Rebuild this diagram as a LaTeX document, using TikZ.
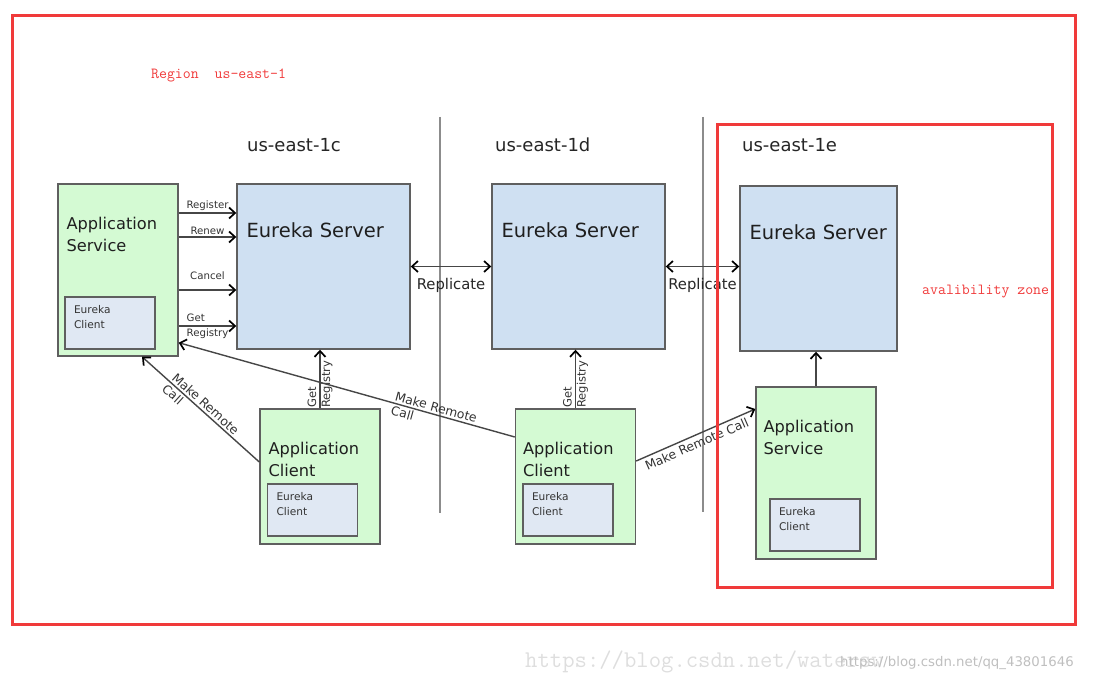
\documentclass[tikz,border=0pt]{standalone}
\usepackage{fontspec}
\setmainfont{DejaVu Sans}
\usepackage{xcolor}
\usetikzlibrary{positioning}
\usetikzlibrary{arrows.meta}
\definecolor{appgreen}{RGB}{212,250,211}
\definecolor{srvblue}{RGB}{207,224,242}
\definecolor{cliblue}{RGB}{224,232,243}
\definecolor{boxline}{RGB}{95,95,95}
\definecolor{linkgray}{RGB}{70,70,70}
\definecolor{sepgray}{RGB}{140,140,140}
\definecolor{annored}{RGB}{240,58,58}
\tikzset{>={Straight Barb[length=6pt,width=11pt,line width=1.7pt,color=black]}}

\begin{document}
\begin{tikzpicture}
	[x=1pt,y=-1pt,inner sep=0pt,
	server/.style={draw=boxline,fill=srvblue,line width=1.4pt,minimum width=173pt,minimum height=165pt},
	appbox/.style={draw=boxline,fill=appgreen,line width=1.4pt,minimum width=120pt,minimum height=#1},
	clibox/.style={draw=boxline,fill=cliblue,line width=1.4pt,minimum width=90pt,minimum height=52pt},
	bigtxt/.style={font=\fontsize{19.5}{23}\selectfont,text=black!88,anchor=west},
	apptxt/.style={font=\fontsize{16.2}{22}\selectfont,text=black!88,align=left,anchor=west},
	clitxt/.style={font=\fontsize{10.6}{15}\selectfont,text=black!80,align=left,anchor=west},
	zonetxt/.style={font=\fontsize{18}{22}\selectfont,text=black!85,anchor=west},
	small/.style={font=\fontsize{10.2}{15}\selectfont,text=black!80},
	vsmall/.style={font=\fontsize{11.5}{14}\selectfont,text=black!80},
	mrc/.style={font=\fontsize{12.4}{15}\selectfont,text=black!80},
	link/.style={draw=linkgray,line width=1.4pt,->},
	dlink/.style={draw=linkgray,line width=1.4pt,<->},
	sepline/.style={draw=sepgray,line width=1.6pt},
	redline/.style={draw=annored,line width=3pt},
	redtxt/.style={font=\ttfamily\fontsize{15.4}{18}\selectfont,text=annored,anchor=west}]
	\useasboundingbox (0,0) rectangle (1093,682);
	% zone separators
	\draw[sepline] (440,117) -- (440,513);
	\draw[sepline] (703,117) -- (703,512);
	% eureka servers
	\node [server] (srv1) at (323.5,266.5) {};
	\node [server] (srv2) at (578.5,266.5) {};
	\node [server,minimum width=157pt] (srv3) at (818.5,268.5) {};
	\foreach \n in {1,2,3}
		\node [bigtxt] (srvtxt\n) at ([xshift=10pt,yshift=-47pt]srv\n.north west) {Eureka Server};
	\node [zonetxt] (zone1) at (247,145) {us-east-1c};
	\node [zonetxt] (zone2) at (495,145) {us-east-1d};
	\node [zonetxt] (zone3) at (742,145) {us-east-1e};
	% applications
	\node [appbox=172pt] (svc1) at (118,270) {};
	\node [appbox=135pt] (acl1) at (320,476.5) {};
	\node [appbox=135pt] (acl2) at (575.5,476.5) {};
	\node [appbox=172pt] (svc3) at (816,473) {};
	\node [apptxt] (svctxt1) at ([xshift=9pt,yshift=-51pt]svc1.north west) {Application\\Service};
	\node [apptxt] (acltxt1) at ([xshift=9pt,yshift=-51pt]acl1.north west) {Application\\Client};
	\node [apptxt] (acltxt2) at ([xshift=8pt,yshift=-51pt]acl2.north west) {Application\\Client};
	\node [apptxt] (svctxt3) at ([xshift=8pt,yshift=-51pt]svc3.north west) {Application\\Service};
	% eureka clients
	\node [clibox] (ec1) at (110,323) {};
	\node [clibox] (ec2) at (312.5,510) {};
	\node [clibox] (ec3) at (568,510) {};
	\node [clibox] (ec4) at (815,525) {};
	\foreach \n in {1,2,3,4}
		\node [clitxt] (ectxt\n) at ([xshift=9.5pt,yshift=-20.5pt]ec\n.north west) {Eureka\\Client};
	% service to server
	\draw[link] (svc1.east |- 0,213) -- node[small,above=1.5pt] {Register} (srv1.west |- 0,213);
	\draw[link] (svc1.east |- 0,237) -- node[small,above=1.5pt] {Renew} (srv1.west |- 0,237);
	\draw[link] (svc1.east |- 0,290) -- node[small,above=10pt] {Cancel} (srv1.west |- 0,290);
	\draw[link] (svc1.east |- 0,326) -- node[small,align=left] {Get\\Registry} (srv1.west |- 0,326);
	% replication
	\draw[dlink] (srv1.east) -- node[zonetxt,anchor=north,font=\fontsize{14.8}{18}\selectfont,below=11pt] {Replicate} (srv2.west);
	\draw[dlink] (srv2.east) -- node[zonetxt,anchor=north,font=\fontsize{14.8}{18}\selectfont,below=11pt] {Replicate} (srv2.east -| srv3.west);
	% clients
	\draw[link] (acl1.north) -- (acl1.north |- srv1.south)
		node[vsmall,pos=0,rotate=90,anchor=west,align=left] {Get\\Registry};
	\draw[link] (acl2.north) -- (acl2.north |- srv2.south)
		node[vsmall,pos=0,rotate=90,anchor=west,align=left] {Get\\Registry};
	\draw[link] (svc3.north) -- (svc3.north |- srv3.south);
	\draw[link] ([yshift=14.5pt]acl1.west) -- node[mrc,sloped,align=left,pos=0.5] {Make Remote\\Call} ([xshift=24pt]svc1.south);
	\draw[link] ([yshift=39.5pt]acl2.west) -- node[mrc,sloped,align=left,pos=0.24] {Make Remote\\Call} ([yshift=14pt]svc1.south east);
	\draw[link] ([yshift=15.5pt]acl2.east) -- node[mrc,sloped,below=3pt,pos=0.48] {Make Remote Call} ([yshift=64pt]svc3.west);
	% annotations
	\draw[redline] (12,16) rectangle (1075,624);
	\draw[redline] (717,125) rectangle (1052,587);
	\node [redtxt] (region) at (151,75) {Region\ \ us-east-1};
	\node [redtxt] (azone) at (922,292) {avalibility zone};
	\node [anchor=west,font=\ttfamily\fontsize{24}{28}\selectfont,text=black!13] (wm1) at (525,662) {https://blog.csdn.net/watersw};
	\node [anchor=west,font=\fontsize{13.3}{16}\selectfont,text=black!25] (wm2) at (840,663) {https://blog.csdn.net/qq\_43801646};
\end{tikzpicture}
\end{document}
